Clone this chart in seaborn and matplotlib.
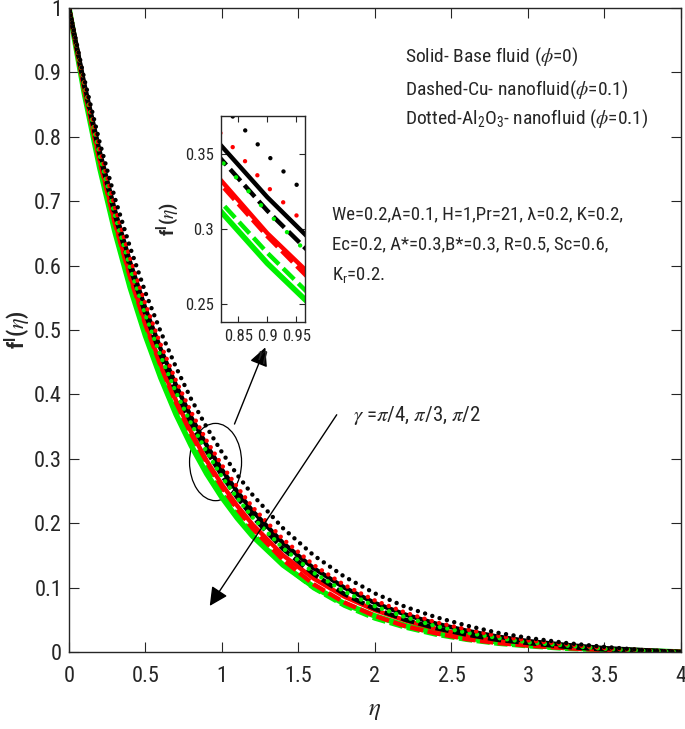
import matplotlib
matplotlib.use("Agg")
import matplotlib.pyplot as plt
from matplotlib.patches import Ellipse
from matplotlib.ticker import FormatStrFormatter, MultipleLocator
import seaborn as sns

# similarity variable
eta = [0, 0.1, 0.2, 0.3, 0.4, 0.5, 0.6, 0.7, 0.8, 0.9, 1.0, 1.1, 1.2,
       1.4, 1.6, 1.8, 2.0, 2.2, 2.4, 2.6, 2.8, 3.0, 3.25, 3.5, 3.75, 4.0]

# gamma = pi/4 (black), pi/3 (red), pi/2 (green)
# solid: base fluid, dashed: Cu nanofluid, dotted: Al2O3 nanofluid
k_solid = [1.000, 0.882, 0.778, 0.686, 0.605, 0.533, 0.470, 0.414, 0.364, 0.321, 0.283, 0.249, 0.219,
           0.169, 0.130, 0.100, 0.076, 0.058, 0.044, 0.033, 0.024, 0.017, 0.011, 0.006, 0.003, 0.000]
k_dash = [1.000, 0.879, 0.773, 0.679, 0.597, 0.525, 0.461, 0.405, 0.355, 0.312, 0.274, 0.240, 0.210,
          0.160, 0.121, 0.090, 0.067, 0.050, 0.037, 0.027, 0.019, 0.014, 0.008, 0.004, 0.002, 0.000]
k_dot = [1.000, 0.890, 0.792, 0.705, 0.628, 0.558, 0.497, 0.442, 0.392, 0.349, 0.310, 0.275, 0.244,
         0.192, 0.150, 0.117, 0.091, 0.070, 0.054, 0.041, 0.030, 0.022, 0.014, 0.008, 0.003, 0.000]
r_solid = [1.000, 0.874, 0.765, 0.668, 0.584, 0.511, 0.446, 0.390, 0.341, 0.297, 0.260, 0.227, 0.198,
           0.150, 0.114, 0.086, 0.065, 0.049, 0.036, 0.026, 0.019, 0.014, 0.008, 0.005, 0.002, 0.000]
r_dash = [1.000, 0.874, 0.763, 0.666, 0.582, 0.508, 0.444, 0.387, 0.338, 0.295, 0.256, 0.222, 0.192,
          0.143, 0.105, 0.077, 0.056, 0.040, 0.029, 0.020, 0.014, 0.010, 0.006, 0.003, 0.001, 0.000]
r_dot = [1.000, 0.884, 0.782, 0.691, 0.611, 0.540, 0.477, 0.421, 0.372, 0.328, 0.290, 0.256, 0.225,
         0.175, 0.135, 0.104, 0.080, 0.061, 0.046, 0.035, 0.025, 0.018, 0.012, 0.006, 0.003, 0.000]
g_solid = [1.000, 0.868, 0.753, 0.653, 0.566, 0.491, 0.426, 0.369, 0.320, 0.277, 0.240, 0.208, 0.180,
           0.135, 0.101, 0.075, 0.056, 0.041, 0.030, 0.022, 0.016, 0.011, 0.007, 0.004, 0.002, 0.000]
g_dash = [1.000, 0.870, 0.756, 0.658, 0.572, 0.497, 0.432, 0.376, 0.326, 0.284, 0.246, 0.213, 0.184,
          0.136, 0.099, 0.072, 0.052, 0.038, 0.027, 0.019, 0.013, 0.009, 0.005, 0.003, 0.001, 0.000]
g_dot = [1.000, 0.879, 0.772, 0.678, 0.596, 0.523, 0.459, 0.403, 0.354, 0.311, 0.272, 0.239, 0.209,
         0.161, 0.123, 0.094, 0.071, 0.054, 0.040, 0.030, 0.022, 0.015, 0.010, 0.005, 0.002, 0.000]

curves = [("g", "solid", g_solid), ("g", "dash", g_dash), ("r", "dash", r_dash),
          ("r", "solid", r_solid), ("k", "dash", k_dash), ("k", "solid", k_solid),
          ("g", "dot", g_dot), ("r", "dot", r_dot), ("k", "dot", k_dot)]

legend_lines = [r"Solid- Base fluid ($\phi$=0)",
                r"Dashed-Cu- nanofluid($\phi$=0.1)",
                r"Dotted-Al$\mathregular{_2}$O$\mathregular{_3}$- nanofluid ($\phi$=0.1)"]
param_lines = ["We=0.2,A=0.1, H=1,Pr=21, \u03bb=0.2, K=0.2,",
               "Ec=0.2, A*=0.3,B*=0.3, R=0.5, Sc=0.6,",
               "K$\\mathregular{_r}$=0.2."]

sns.set_style("ticks")
plt.rcParams["font.family"] = ["Roboto Condensed", "Liberation Sans", "DejaVu Sans"]
plt.rcParams["mathtext.fontset"] = "stix"

fig = plt.figure(figsize=(6.85, 7.29), dpi=100)
ax = fig.add_axes([0.1007, 0.1056, 0.8934, 0.8834])
ins = fig.add_axes([0.3226, 0.5583, 0.1226, 0.2826])

cols = {"k": "black", "r": "#ff0000", "g": "#00f000"}
main_styles = {"solid": "-", "dash": (0, (3, 1.0)), "dot": (0, (0.01, 1.7))}
ins_styles = {"solid": "-", "dash": (0, (3.5, 1.3)), "dot": (0, (0.01, 4.2))}
for c, s, f in curves:
    lw = 4 if (c == "g" and s == "solid") else 3.2
    cap = "round" if s == "dot" else "butt"
    sns.lineplot(x=eta, y=f, ax=ax, color=cols[c], linestyle=main_styles[s], lw=lw,
                 dash_capstyle=cap)
    sns.lineplot(x=eta, y=f, ax=ins, color=cols[c], linestyle=ins_styles[s], lw=lw,
                 dash_capstyle=cap)

ax.set_xlim(0, 4)
ax.set_ylim(0, 1)
ax.xaxis.set_major_locator(MultipleLocator(0.5))
ax.yaxis.set_major_locator(MultipleLocator(0.1))
ax.xaxis.set_major_formatter(FormatStrFormatter("%g"))
ax.yaxis.set_major_formatter(FormatStrFormatter("%g"))
ax.tick_params(direction="in", top=True, right=True, length=7, width=0.8, labelsize=16)
ax.tick_params(axis="x", pad=10)
ax.tick_params(axis="y", pad=5)
for sp in ax.spines.values():
    sp.set_linewidth(1.0)
    sp.set_visible(True)
ax.set_xlabel(r"$\eta$", fontsize=18, labelpad=8)
ax.set_ylabel(r"f$^{\mathregular{I}}$($\eta$)", fontsize=16, fontweight="bold")
ax.yaxis.set_label_coords(-0.06, 0.5)

ins.set_xlim(0.82, 0.965)
ins.set_ylim(0.238, 0.375)
ins.set_xticks([0.85, 0.9, 0.95])
ins.set_yticks([0.25, 0.3, 0.35])
ins.xaxis.set_major_formatter(FormatStrFormatter("%g"))
ins.yaxis.set_major_formatter(FormatStrFormatter("%g"))
ins.tick_params(direction="in", top=True, right=True, length=4, width=0.8, labelsize=12, pad=5)
for sp in ins.spines.values():
    sp.set_linewidth(1.0)
    sp.set_visible(True)
ins.set_xlabel(r"$\eta$", fontsize=15, labelpad=2)
ins.set_ylabel(r"f$^{\mathregular{I}}$($\eta$)", fontsize=14, fontweight="bold", labelpad=2)

for yb, txt in zip([0.916, 0.865, 0.821], legend_lines):
    ax.text(2.196, yb, txt, fontsize=14, va="baseline")
for yb, txt in zip([0.672, 0.626, 0.578], param_lines):
    ax.text(1.719, yb, txt, fontsize=13.5, va="baseline")
ax.text(1.856, 0.359, r"$\gamma$ =$\pi$/4, $\pi$/3, $\pi$/2", fontsize=15, va="baseline")

ax.add_patch(Ellipse((0.958, 0.295), 0.34, 0.12, fill=False, lw=0.9, color="black"))
ax.annotate("", xy=(1.29, 0.477), xytext=(1.075, 0.350),
            arrowprops=dict(arrowstyle="-|>", color="black", lw=1, mutation_scale=28))
ax.annotate("", xy=(0.91, 0.068), xytext=(1.76, 0.372),
            arrowprops=dict(arrowstyle="-|>", color="black", lw=1, mutation_scale=28))

fig.savefig("out.png", dpi=100)
